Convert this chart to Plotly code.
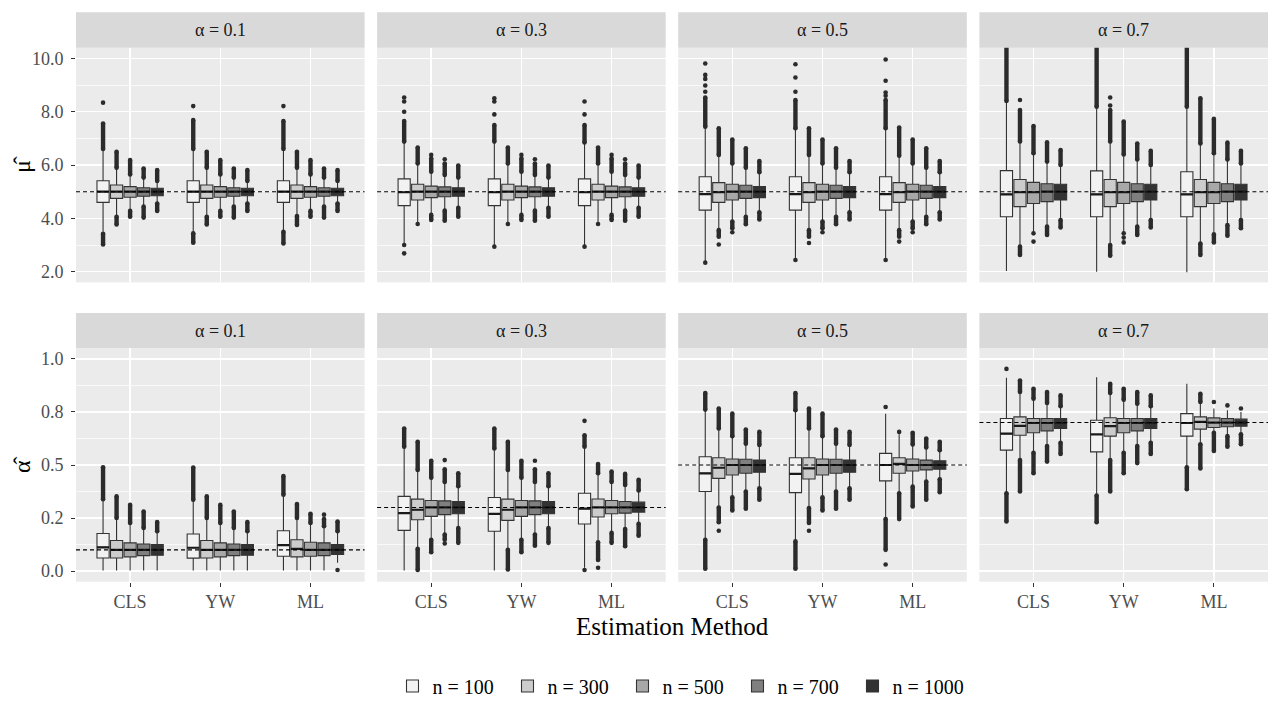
import plotly.graph_objects as go

# ---------------- data ----------------
methods = ["CLS", "YW", "ML"]
n_labels = ["n = 100", "n = 300", "n = 500", "n = 700", "n = 1000"]
alpha_vals = [0.1, 0.3, 0.5, 0.7]
alpha_labels = ["α = 0.1", "α = 0.3", "α = 0.5", "α = 0.7"]
mu_true = 5.0
fills = ["#F2F2F2", "#CCCCCC", "#A8A8A8", "#7F7F7F", "#333333"]

mu_ticks = [2.0, 4.0, 6.0, 8.0, 10.0]
mu_ticktext = ["2.0", "4.0", "6.0", "8.0", "10.0"]
al_ticks = [0.0, 0.25, 0.5, 0.75, 1.0]
al_ticktext = ["0.0", "0.2", "0.5", "0.8", "1.0"]

# box stats: [lower whisker, q1, median, q3, upper whisker]; rows n=100..1000
# outliers: [runs of dense points [from, to], isolated points]

# ---- mu-hat, alpha = 0.1
mu_box_01 = [
    [[3.50, 4.60, 5.00, 5.41, 6.55], [4.12, 4.75, 5.00, 5.25, 5.87], [4.31, 4.79, 5.00, 5.19, 5.62], [4.46, 4.83, 5.00, 5.15, 5.50], [4.60, 4.85, 5.00, 5.13, 5.37]],
    [[3.50, 4.60, 5.00, 5.41, 6.55], [4.12, 4.75, 5.00, 5.25, 5.87], [4.31, 4.79, 5.00, 5.19, 5.62], [4.46, 4.83, 5.00, 5.15, 5.50], [4.60, 4.85, 5.00, 5.13, 5.37]],
    [[3.55, 4.60, 5.00, 5.41, 6.55], [4.12, 4.75, 5.00, 5.25, 5.87], [4.31, 4.79, 5.00, 5.19, 5.62], [4.46, 4.83, 5.00, 5.15, 5.50], [4.60, 4.85, 5.00, 5.13, 5.37]],
]
mu_out_01 = [
    [[[[6.60, 7.56], [3.02, 3.42]], [8.34]], [[[5.90, 6.50], [3.77, 4.06]], []], [[[5.65, 6.19], [4.06, 4.28]], []], [[[5.53, 5.87], [4.03, 4.44]], []], [[[5.40, 5.81], [4.28, 4.56]], []]],
    [[[[6.60, 7.69], [3.09, 3.44]], [8.21]], [[[5.90, 6.50], [3.77, 4.06]], []], [[[5.65, 6.19], [4.06, 4.28]], []], [[[5.53, 5.87], [4.03, 4.44]], []], [[[5.40, 5.81], [4.28, 4.56]], []]],
    [[[[6.60, 7.65], [3.06, 3.50]], [8.21]], [[[5.90, 6.50], [3.75, 4.09]], []], [[[5.65, 6.19], [4.06, 4.28]], []], [[[5.53, 5.87], [4.03, 4.44]], []], [[[5.40, 5.81], [4.28, 4.56]], []]],
]
# ---- mu-hat, alpha = 0.3
mu_box_03 = [
    [[3.08, 4.48, 4.98, 5.48, 6.85], [3.85, 4.69, 5.00, 5.28, 6.00], [4.19, 4.78, 5.00, 5.21, 5.72], [4.31, 4.81, 5.00, 5.18, 5.60], [4.44, 4.83, 5.00, 5.15, 5.50]],
    [[3.00, 4.48, 4.98, 5.48, 6.85], [3.85, 4.69, 5.00, 5.28, 6.00], [4.19, 4.78, 5.00, 5.21, 5.72], [4.31, 4.81, 5.00, 5.18, 5.60], [4.44, 4.83, 5.00, 5.15, 5.50]],
    [[3.00, 4.48, 4.98, 5.48, 6.82], [3.85, 4.69, 5.00, 5.28, 6.00], [4.19, 4.78, 5.00, 5.21, 5.72], [4.31, 4.81, 5.00, 5.18, 5.60], [4.44, 4.83, 5.00, 5.15, 5.50]],
]
mu_out_03 = [
    [[[[6.88, 7.65]], [8.53, 8.38, 8.00, 3.00, 2.69]], [[[6.06, 6.66]], [3.79]], [[[5.75, 6.25], [3.94, 4.13]], [6.38]], [[[5.63, 6.06], [3.91, 4.29]], [6.22]], [[[5.53, 5.98], [4.06, 4.40]], []]],
    [[[[6.88, 7.50]], [8.50, 8.38, 7.90, 2.94]], [[[6.06, 6.66]], [3.79]], [[[5.75, 6.25], [3.94, 4.13]], [6.38]], [[[5.63, 6.06], [3.91, 4.29]], [6.22]], [[[5.53, 5.98], [4.06, 4.40]], []]],
    [[[[6.85, 7.50]], [8.38, 7.90, 2.94]], [[[6.06, 6.66]], [3.79]], [[[5.75, 6.25], [3.94, 4.13]], [6.38]], [[[5.63, 6.06], [3.91, 4.29]], [6.22]], [[[5.53, 5.98], [4.06, 4.40]], []]],
]
# ---- mu-hat, alpha = 0.5
mu_box_05 = [
    [[2.40, 4.31, 4.91, 5.56, 7.40], [3.59, 4.60, 4.98, 5.34, 6.35], [3.94, 4.69, 5.00, 5.28, 6.02], [4.09, 4.75, 5.00, 5.24, 5.87], [4.25, 4.78, 5.00, 5.19, 5.70]],
    [[2.50, 4.31, 4.91, 5.56, 7.35], [3.59, 4.60, 4.98, 5.34, 6.35], [3.94, 4.69, 5.00, 5.28, 6.02], [4.09, 4.75, 5.00, 5.24, 5.87], [4.25, 4.78, 5.00, 5.19, 5.70]],
    [[2.50, 4.31, 4.91, 5.56, 7.35], [3.59, 4.60, 4.98, 5.34, 6.32], [3.94, 4.69, 5.00, 5.28, 6.02], [4.09, 4.75, 5.00, 5.24, 5.87], [4.25, 4.78, 5.00, 5.19, 5.70]],
]
mu_out_05 = [
    [[[[7.44, 8.53]], [9.81, 9.38, 9.23, 8.98, 8.75, 2.34]], [[[6.38, 7.38], [3.31, 3.56]], [3.02]], [[[6.06, 6.96], [3.63, 3.88]], [3.48]], [[[5.90, 6.63], [3.78, 4.06]], []], [[[5.73, 6.15], [3.96, 4.23]], []]],
    [[[[7.38, 8.44]], [9.78, 9.28, 8.75, 2.44]], [[[6.38, 7.38], [3.31, 3.56]], [3.08]], [[[6.06, 6.96], [3.63, 3.88]], [3.48]], [[[5.90, 6.63], [3.78, 4.06]], []], [[[5.73, 6.15], [3.96, 4.23]], []]],
    [[[[7.38, 8.44]], [9.96, 9.16, 8.72, 8.60, 2.44]], [[[6.35, 7.41], [3.31, 3.56]], [3.13]], [[[6.06, 6.96], [3.63, 3.88]], [3.48]], [[[5.90, 6.63], [3.78, 4.06]], []], [[[5.73, 6.15], [3.96, 4.23]], []]],
]
# ---- mu-hat, alpha = 0.7
mu_box_07 = [
    [[2.03, 4.06, 4.90, 5.79, 8.38], [3.00, 4.44, 4.98, 5.46, 6.81], [3.50, 4.56, 4.98, 5.35, 6.40], [3.73, 4.63, 5.00, 5.30, 6.10], [3.96, 4.69, 5.00, 5.28, 5.97]],
    [[2.00, 4.06, 4.90, 5.78, 8.15], [3.03, 4.44, 4.98, 5.46, 6.81], [3.50, 4.56, 4.98, 5.35, 6.37], [3.73, 4.63, 5.00, 5.30, 6.18], [3.96, 4.69, 5.00, 5.28, 5.97]],
    [[1.98, 4.06, 4.90, 5.75, 8.15], [3.09, 4.44, 4.98, 5.46, 6.78], [3.47, 4.56, 4.98, 5.35, 6.41], [3.78, 4.63, 5.00, 5.30, 6.18], [3.97, 4.69, 5.00, 5.28, 6.03]],
]
mu_out_07 = [
    [[[[8.40, 10.9]], []], [[[6.88, 8.06], [2.63, 2.94]], [8.44]], [[[6.44, 7.46]], [3.44, 3.13]], [[[6.13, 6.85], [3.38, 3.69]], []], [[[6.00, 6.56], [3.66, 3.94]], []]],
    [[[[8.19, 10.9]], []], [[[6.88, 8.06], [2.60, 3.00]], [8.53, 8.23]], [[[6.40, 7.63]], [3.44, 3.28, 3.10]], [[[6.21, 6.81], [3.38, 3.69]], []], [[[6.00, 6.53], [3.66, 3.94]], []]],
    [[[[8.19, 10.9]], []], [[[6.81, 8.50], [2.63, 3.06]], []], [[[6.44, 7.73], [3.10, 3.40]], []], [[[6.21, 6.84], [3.35, 3.75]], []], [[[6.06, 6.53], [3.63, 3.94]], []]],
]

# ---- alpha-hat, alpha = 0.1
al_box_01 = [
    [[0.003, 0.062, 0.112, 0.177, 0.336], [0.003, 0.062, 0.100, 0.144, 0.247], [0.003, 0.067, 0.100, 0.133, 0.223], [0.003, 0.073, 0.100, 0.128, 0.200], [0.003, 0.075, 0.100, 0.125, 0.184]],
    [[0.003, 0.061, 0.110, 0.175, 0.333], [0.003, 0.062, 0.100, 0.144, 0.247], [0.003, 0.067, 0.100, 0.133, 0.223], [0.003, 0.073, 0.100, 0.128, 0.200], [0.003, 0.075, 0.100, 0.125, 0.184]],
    [[0.003, 0.070, 0.122, 0.190, 0.355], [0.003, 0.067, 0.105, 0.148, 0.247], [0.003, 0.070, 0.100, 0.136, 0.223], [0.003, 0.073, 0.100, 0.133, 0.205], [0.039, 0.078, 0.100, 0.125, 0.184]],
]
al_out_01 = [
    [[[[0.339, 0.489]], []], [[[0.250, 0.352]], []], [[[0.227, 0.312]], []], [[[0.203, 0.281]], []], [[[0.188, 0.231]], []]],
    [[[[0.336, 0.488]], []], [[[0.250, 0.352]], []], [[[0.227, 0.312]], []], [[[0.203, 0.281]], []], [[[0.188, 0.231]], []]],
    [[[[0.360, 0.448]], []], [[[0.250, 0.316]], []], [[[0.227, 0.270]], []], [[[0.211, 0.245]], [0.266]], [[[0.188, 0.234]], [0.005]]],
]
# ---- alpha-hat, alpha = 0.3
al_box_03 = [
    [[0.003, 0.192, 0.273, 0.352, 0.583], [0.109, 0.242, 0.289, 0.339, 0.473], [0.152, 0.258, 0.300, 0.333, 0.437], [0.175, 0.266, 0.300, 0.331, 0.417], [0.206, 0.270, 0.300, 0.328, 0.398]],
    [[0.003, 0.188, 0.270, 0.347, 0.575], [0.105, 0.239, 0.289, 0.339, 0.473], [0.152, 0.258, 0.300, 0.333, 0.437], [0.175, 0.266, 0.300, 0.331, 0.417], [0.206, 0.270, 0.300, 0.328, 0.398]],
    [[0.016, 0.222, 0.294, 0.367, 0.583], [0.140, 0.255, 0.300, 0.340, 0.456], [0.183, 0.270, 0.300, 0.333, 0.417], [0.202, 0.273, 0.300, 0.328, 0.402], [0.226, 0.278, 0.300, 0.325, 0.375]],
]
al_out_03 = [
    [[[[0.586, 0.672]], []], [[[0.477, 0.609], [0.005, 0.105]], []], [[[0.440, 0.520], [0.089, 0.148]], []], [[[0.420, 0.480], [0.148, 0.172]], [0.523, 0.130]], [[[0.400, 0.461], [0.133, 0.203]], []]],
    [[[[0.578, 0.672]], []], [[[0.477, 0.609], [0.008, 0.100]], []], [[[0.440, 0.520], [0.089, 0.148]], []], [[[0.420, 0.480], [0.120, 0.172]], [0.520]], [[[0.400, 0.461], [0.133, 0.203]], []]],
    [[[[0.586, 0.640]], [0.708, 0.005]], [[[0.461, 0.505], [0.052, 0.136]], [0.016]], [[[0.420, 0.469], [0.133, 0.180]], []], [[[0.406, 0.458], [0.117, 0.198]], []], [[[0.380, 0.430], [0.167, 0.223]], []]],
]
# ---- alpha-hat, alpha = 0.5
al_box_05 = [
    [[0.152, 0.375, 0.461, 0.539, 0.758], [0.305, 0.437, 0.487, 0.534, 0.667], [0.352, 0.453, 0.500, 0.528, 0.633], [0.378, 0.461, 0.500, 0.527, 0.598], [0.394, 0.466, 0.500, 0.523, 0.590]],
    [[0.144, 0.370, 0.458, 0.534, 0.755], [0.300, 0.434, 0.484, 0.534, 0.667], [0.352, 0.453, 0.500, 0.528, 0.633], [0.378, 0.461, 0.500, 0.527, 0.598], [0.394, 0.466, 0.500, 0.523, 0.590]],
    [[0.250, 0.425, 0.500, 0.555, 0.742], [0.372, 0.461, 0.505, 0.534, 0.645], [0.402, 0.472, 0.500, 0.528, 0.594], [0.425, 0.477, 0.500, 0.523, 0.578], [0.437, 0.480, 0.500, 0.520, 0.566]],
]
al_out_05 = [
    [[[[0.761, 0.839], [0.011, 0.148]], []], [[[0.672, 0.766], [0.230, 0.300]], [0.190]], [[[0.636, 0.742], [0.286, 0.348]], []], [[[0.600, 0.667], [0.294, 0.375]], []], [[[0.594, 0.656], [0.336, 0.390]], []]],
    [[[[0.758, 0.839], [0.011, 0.140]], []], [[[0.672, 0.766], [0.227, 0.297]], [0.190]], [[[0.636, 0.742], [0.286, 0.348]], []], [[[0.600, 0.667], [0.294, 0.375]], []], [[[0.594, 0.656], [0.336, 0.390]], []]],
    [[[[0.100, 0.245]], [0.773, 0.031]], [[[0.245, 0.367]], [0.656]], [[[0.597, 0.652], [0.305, 0.398]], []], [[[0.583, 0.625], [0.336, 0.422]], []], [[[0.570, 0.609], [0.372, 0.433]], []]],
]
# ---- alpha-hat, alpha = 0.7
al_box_07 = [
    [[0.370, 0.570, 0.648, 0.719, 0.911], [0.527, 0.640, 0.684, 0.727, 0.839], [0.562, 0.652, 0.698, 0.719, 0.808], [0.594, 0.661, 0.698, 0.719, 0.789], [0.609, 0.672, 0.698, 0.719, 0.773]],
    [[0.360, 0.562, 0.644, 0.711, 0.914], [0.527, 0.636, 0.683, 0.723, 0.836], [0.562, 0.652, 0.698, 0.719, 0.805], [0.594, 0.661, 0.698, 0.719, 0.786], [0.609, 0.672, 0.698, 0.719, 0.773]],
    [[0.495, 0.636, 0.698, 0.742, 0.883], [0.602, 0.669, 0.703, 0.727, 0.792], [0.656, 0.677, 0.700, 0.722, 0.766], [0.641, 0.680, 0.700, 0.719, 0.758], [0.648, 0.683, 0.700, 0.716, 0.750]],
]
al_out_07 = [
    [[[[0.234, 0.367]], [0.953]], [[[0.844, 0.898], [0.375, 0.523]], []], [[[0.812, 0.859], [0.461, 0.558]], []], [[[0.792, 0.844], [0.516, 0.589]], []], [[[0.777, 0.828], [0.552, 0.605]], []]],
    [[[[0.230, 0.356]], []], [[[0.839, 0.883], [0.375, 0.523]], []], [[[0.808, 0.859], [0.461, 0.558]], []], [[[0.789, 0.844], [0.509, 0.589]], []], [[[0.777, 0.828], [0.552, 0.605]], []]],
    [[[[0.386, 0.489]], []], [[[0.797, 0.836], [0.484, 0.598]], []], [[[0.566, 0.652]], [0.797]], [[[0.586, 0.636]], [0.781]], [[[0.598, 0.645]], [0.766]]],
]

mu_boxes = [mu_box_01, mu_box_03, mu_box_05, mu_box_07]
mu_outs = [mu_out_01, mu_out_03, mu_out_05, mu_out_07]
al_boxes = [al_box_01, al_box_03, al_box_05, al_box_07]
al_outs = [al_out_01, al_out_03, al_out_05, al_out_07]

# ---------------- layout geometry (pixels) ----------------
W, H = 1280, 720
col_x0 = [76.0, 377.1, 678.2, 979.4]
panel_w = 288.6
row_plot = [(47.7, 282.4), (348.3, 581.7)]
row_strip = [(12.3, 47.7), (312.9, 348.3)]
FONT = "Liberation Serif"
DODGE = 0.15
BOXW = 0.135
OUT_COLOR = "#2B2B2B"

fig = go.Figure()
layout_axes = {}
shapes = []
annotations = []

for r in range(2):
    boxes_row = mu_boxes if r == 0 else al_boxes
    outs_row = mu_outs if r == 0 else al_outs
    for c in range(4):
        k = r * 4 + c + 1
        xa = "x" if k == 1 else f"x{k}"
        ya = "y" if k == 1 else f"y{k}"
        box = boxes_row[c]
        out = outs_row[c]
        for j in range(5):
            xs = [i + 1 + (j - 2) * DODGE for i in range(3)]
            rx, ry, px, py = [], [], [], []
            for i in range(3):
                runs, pts = out[i][j]
                for a, b in runs:
                    rx += [xs[i], xs[i], None]
                    ry += [a, b, None]
                for p in pts:
                    px.append(xs[i])
                    py.append(p)
            if rx:
                fig.add_trace(go.Scatter(x=rx, y=ry, mode="lines+markers", xaxis=xa, yaxis=ya,
                                         line=dict(color=OUT_COLOR, width=4.4),
                                         marker=dict(color=OUT_COLOR, size=4.6),
                                         showlegend=False, hoverinfo="skip"))
            if px:
                fig.add_trace(go.Scatter(x=px, y=py, mode="markers", xaxis=xa, yaxis=ya,
                                         marker=dict(color=OUT_COLOR, size=4.6),
                                         showlegend=False, hoverinfo="skip"))
            fig.add_trace(go.Box(
                x=xs,
                lowerfence=[box[i][j][0] for i in range(3)],
                q1=[box[i][j][1] for i in range(3)],
                median=[box[i][j][2] for i in range(3)],
                q3=[box[i][j][3] for i in range(3)],
                upperfence=[box[i][j][4] for i in range(3)],
                width=BOXW, whiskerwidth=0, boxpoints=False,
                fillcolor=fills[j], line=dict(color="#333333", width=1.1),
                name=n_labels[j], legendgroup=n_labels[j], showlegend=(k == 1),
                xaxis=xa, yaxis=ya, hoverinfo="skip"))
            mx, my = [], []
            for i in range(3):
                mx += [xs[i] - BOXW / 2, xs[i] + BOXW / 2, None]
                my += [box[i][j][2], box[i][j][2], None]
            fig.add_trace(go.Scatter(x=mx, y=my, mode="lines", xaxis=xa, yaxis=ya,
                                     line=dict(color="#1A1A1A", width=2.2),
                                     showlegend=False, hoverinfo="skip"))

        x0 = col_x0[c]
        x1 = x0 + panel_w
        y0, y1 = row_plot[r]
        layout_axes["xaxis" if k == 1 else f"xaxis{k}"] = dict(
            domain=[x0 / W, x1 / W], anchor=ya, range=[0.4, 3.6],
            tickmode="array", tickvals=[1, 2, 3], ticktext=methods,
            showticklabels=(r == 1), ticks="outside" if r == 1 else "",
            ticklen=4, tickwidth=1, tickcolor="#333333",
            tickfont=dict(family=FONT, size=18, color="#4D4D4D"),
            showgrid=True, gridcolor="white", gridwidth=1.5,
            zeroline=False, showline=False, fixedrange=True)
        if r == 0:
            yr, tv, tt, minor_vals = [1.6, 10.4], mu_ticks, mu_ticktext, [3, 5, 7, 9]
        else:
            yr, tv, tt, minor_vals = [-0.05, 1.05], al_ticks, al_ticktext, [0.125, 0.375, 0.625, 0.875]
        layout_axes["yaxis" if k == 1 else f"yaxis{k}"] = dict(
            domain=[1 - y1 / H, 1 - y0 / H], anchor=xa, range=yr,
            tickmode="array", tickvals=tv, ticktext=tt,
            showticklabels=(c == 0), ticks="outside" if c == 0 else "",
            ticklen=4, tickwidth=1, tickcolor="#333333", ticklabelstandoff=4,
            tickfont=dict(family=FONT, size=18, color="#4D4D4D"),
            showgrid=True, gridcolor="white", gridwidth=1.5,
            minor=dict(tickvals=minor_vals, showgrid=True, gridcolor="white", gridwidth=0.7, ticks=""),
            zeroline=False, showline=False, fixedrange=True)

        ref = mu_true if r == 0 else alpha_vals[c]
        shapes.append(dict(type="line", xref=f"{xa} domain", x0=0, x1=1, yref=ya, y0=ref, y1=ref,
                           line=dict(color="black", width=1.1, dash="4px,3px"), layer="above"))
        s0, s1 = row_strip[r]
        shapes.append(dict(type="rect", xref="paper", yref="paper", x0=x0 / W, x1=x1 / W,
                           y0=1 - s1 / H, y1=1 - s0 / H, fillcolor="#D9D9D9", line=dict(width=0),
                           layer="below"))
        annotations.append(dict(text=alpha_labels[c], xref="paper", yref="paper",
                                x=(x0 + x1) / 2 / W, y=1 - (s0 + s1) / 2 / H,
                                showarrow=False, xanchor="center", yanchor="middle",
                                font=dict(family=FONT, size=18, color="#1A1A1A")))

annotations.append(dict(text="Estimation Method", xref="paper", yref="paper",
                        x=(col_x0[0] + col_x0[3] + panel_w) / 2 / W, y=1 - 626 / H,
                        showarrow=False, xanchor="center", yanchor="middle",
                        font=dict(family=FONT, size=25, color="black")))
annotations.append(dict(text="μ̂", xref="paper", yref="paper", x=22 / W,
                        y=1 - sum(row_plot[0]) / 2 / H, showarrow=False, textangle=-90,
                        xanchor="center", yanchor="middle",
                        font=dict(family=FONT, size=24, color="black")))
annotations.append(dict(text="α̂", xref="paper", yref="paper", x=22 / W,
                        y=1 - sum(row_plot[1]) / 2 / H, showarrow=False, textangle=-90,
                        xanchor="center", yanchor="middle",
                        font=dict(family=FONT, size=24, color="black")))

fig.update_layout(
    width=W, height=H, margin=dict(l=0, r=0, t=0, b=0),
    paper_bgcolor="white", plot_bgcolor="#EBEBEB",
    font=dict(family=FONT, size=17, color="black"),
    showlegend=True,
    legend=dict(orientation="h", x=680 / W, xanchor="center", y=1 - 686 / H, yanchor="middle",
                font=dict(family=FONT, size=20, color="black"), bgcolor="rgba(0,0,0,0)",
                traceorder="normal", itemwidth=30, entrywidth=70, entrywidthmode="pixels"),
    shapes=shapes, annotations=annotations,
    **layout_axes,
)

fig.write_html("out.html", config={"displayModeBar": False, "staticPlot": True},
               post_script="document.body.style.margin='0';document.body.style.overflow='hidden';")
